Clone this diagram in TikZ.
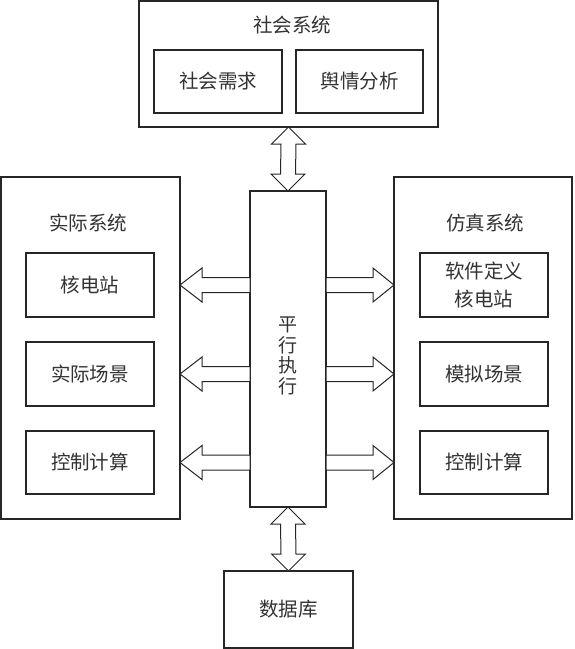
\documentclass[tikz,border=0pt]{standalone}
\usepackage{fontspec}
\newfontfamily\cjk{Noto Sans CJK SC}
\usetikzlibrary{calc}
\begin{document}
\begin{tikzpicture}[x=1pt,y=-1pt,
  box/.style={draw=black!85, line width=1.1pt, inner sep=0pt, outer sep=0pt, anchor=north west, fill=white},
  lbl/.style={font=\cjk\fontsize{19.5}{28}\selectfont, align=center, text=black!80, inner sep=0pt},
  barrow/.style={draw=black!85, line width=1pt, fill=white, line join=miter}]
\useasboundingbox (0,0) rectangle (574,649);
% social system
\node[box, minimum width=299, minimum height=126] (social) at (139,1) {};
\node[lbl] (socialt) at (292,25) {社会系统};
\node[box, minimum width=128, minimum height=63, lbl, anchor=north west] (sn1) at (154,50) {社会需求};
\node[box, minimum width=127, minimum height=63, lbl, anchor=north west] (sn2) at (296,50) {舆情分析};
% left system
\node[box, minimum width=179, minimum height=342] (left) at (1,177) {};
\node[lbl] (leftt) at (88,223) {实际系统};
\node[box, minimum width=128, minimum height=64, lbl, anchor=north west] (l1) at (26,253) {核电站};
\node[box, minimum width=128, minimum height=64, lbl, anchor=north west] (l2) at (26,342) {实际场景};
\node[box, minimum width=128, minimum height=63, lbl, anchor=north west] (l3) at (26,431) {控制计算};
% right system
\node[box, minimum width=178, minimum height=342] (right) at (394,177) {};
\node[lbl] (rightt) at (485,223) {仿真系统};
\node[box, minimum width=128, minimum height=64, lbl, anchor=north west] (r1) at (420,253) {软件定义\\核电站};
\node[box, minimum width=128, minimum height=64, lbl, anchor=north west] (r2) at (420,342) {模拟场景};
\node[box, minimum width=128, minimum height=63, lbl, anchor=north west] (r3) at (420,431) {控制计算};
% center
\node[box, minimum width=76, minimum height=316] (center) at (250,191) {};
\node[lbl, font=\cjk\fontsize{19}{20.5}\selectfont] (centert) at (288,356) {平\\行\\执\\行};
% database
\node[box, minimum width=129, minimum height=77, lbl, anchor=north west] (db) at (224,571) {数据库};
% left arrows
\foreach \s in {l1,l2,l3}{
  \coordinate (A) at (left.east |- \s.center);
  \coordinate (B) at (center.west |- \s.center);
  \draw[barrow] (A) -- ($(A)+(22,17)$) -- ($(A)+(22,7.5)$) -- ($(B)+(0,7.5)$) -- ($(B)+(0,-7.5)$) -- ($(A)+(22,-7.5)$) -- ($(A)+(22,-17)$) -- cycle;
}
% right arrows
\foreach \s in {r1,r2,r3}{
  \coordinate (A) at (center.east |- \s.center);
  \coordinate (B) at (right.west |- \s.center);
  \draw[barrow] (B) -- ($(B)+(-21,17)$) -- ($(B)+(-21,7.5)$) -- ($(A)+(0,7.5)$) -- ($(A)+(0,-7.5)$) -- ($(B)+(-21,-7.5)$) -- ($(B)+(-21,-17)$) -- cycle;
}
% vertical double arrows
\foreach \t/\b in {social.south/center.north, center.south/db.north}{
  \coordinate (T) at (\t);
  \coordinate (U) at (\b);
  \draw[barrow] (T) -- ($(T)+(17,17)$) -- ($(T)+(7.5,17)$) -- ($(U)+(7.5,-17)$) -- ($(U)+(17,-17)$) -- (U) -- ($(U)+(-17,-17)$) -- ($(U)+(-7.5,-17)$) -- ($(T)+(-7.5,17)$) -- ($(T)+(-17,17)$) -- cycle;
}
\end{tikzpicture}
\end{document}
